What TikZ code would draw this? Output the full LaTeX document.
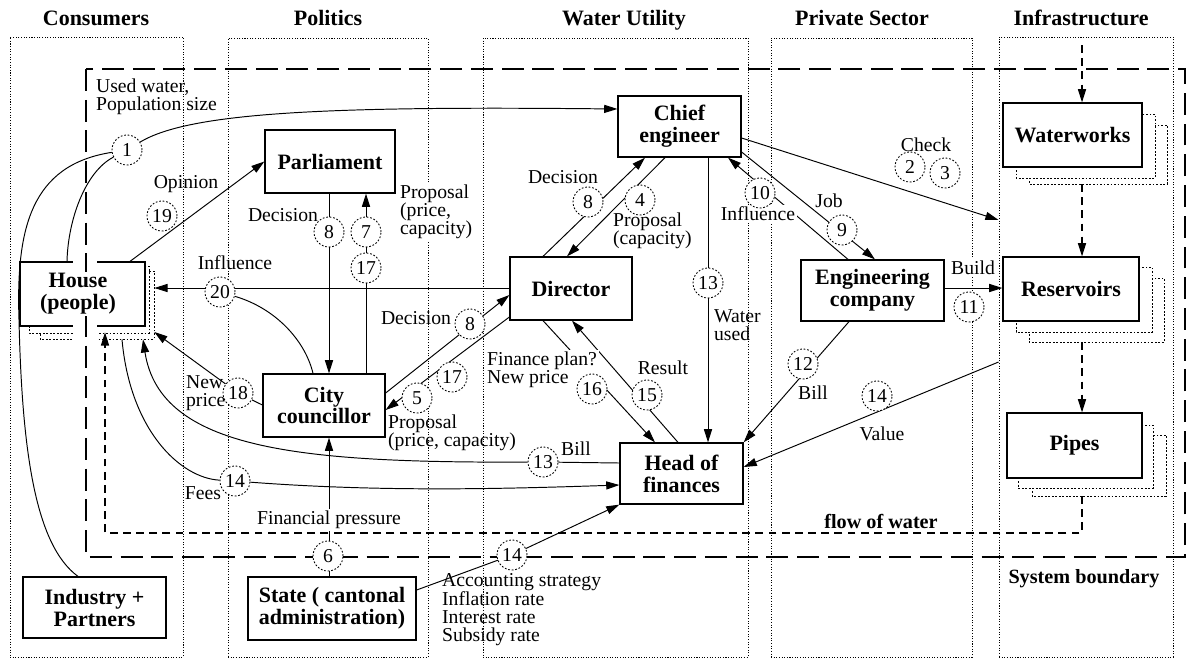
\documentclass[tikz,border=0pt]{standalone}
\usepackage{fontspec}
\setmainfont{Liberation Serif}[BoldFont={Liberation Serif Bold}]
\usetikzlibrary{arrows.meta,fit,calc}
\pgfdeclarelayer{bg}
\pgfdeclarelayer{conn}
\pgfsetlayers{bg,conn,main}
\begin{document}
\begin{tikzpicture}[x=0.02cm,y=-0.02cm,
  lab/.style={font=\fontsize{11.2}{10.4}\selectfont, inner sep=1pt},
  labl/.style={lab, align=left, anchor=west},
  wlab/.style={lab, fill=white},
  head/.style={font=\fontsize{12.5}{13}\selectfont\bfseries, anchor=base},
  wh/.style 2 args={minimum width=#1*0.02cm, minimum height=#2*0.02cm},
  bx/.style={draw, line width=0.7pt, fill=white, inner sep=0pt, align=center,
    font=\fontsize{12.5}{12.5}\selectfont\bfseries},
  shad/.style={draw, fill=white, line width=0.5pt, dash pattern=on 1pt off 1pt},
  num/.style={circle, draw, fill=white, line width=0.5pt, dash pattern=on 1pt off 1pt,
    minimum size=0.6cm, inner sep=0pt, font=\fontsize{11.2}{12}\selectfont},
  col/.style={draw, line width=0.5pt, dash pattern=on 0.6pt off 0.9pt, inner sep=0pt},
  flow/.style={line width=0.6pt, dash pattern=on 4.5pt off 3pt},
  sysb/.style={line width=1.5pt, dash pattern=on 12.5pt off 5pt},
  ln/.style={line width=0.55pt},
  arr/.style={ln, -{Triangle[length=7.5pt,width=4.6pt]}}
]
\useasboundingbox (0,0) rectangle (1189,660);

% ---------- column headings ----------
\node[head] (hcons) at (96,25) {Consumers};
\node[head] (hpol)  at (328,25) {Politics};
\node[head] (hwat)  at (624,25) {Water Utility};
\node[head] (hpriv) at (862,25) {Private Sector};
\node[head] (hinf)  at (1081,25) {Infrastructure};

% ---------- actors ----------
\node[bx, wh={130}{63}] (parl)  at (330,161.5) {Parliament};
\node[bx, wh={122}{63}] (cc)    at (324,405.5) {City\\councillor};
\node[bx, wh={123}{61}] (ce)    at (679.5,126.5) {Chief\\engineer};
\node[bx, wh={122}{63}] (dir)   at (571,288.5) {Director};
\node[bx, wh={143}{61}] (ec)    at (872.5,290.5) {Engineering\\company};
\node[bx, wh={123}{61}] (hf)    at (681.5,473.5) {Head of\\finances};
\node[bx, wh={143}{61}] (ind)   at (94.5,607.5) {Industry +\\Partners};
\node[bx, wh={168}{63}] (state) at (332,608.5) {State ( cantonal\\administration)};
\node[bx, wh={139}{64}] (ww)    at (1072.5,135) {Waterworks};
\node[bx, wh={136}{64}] (res)   at (1071,289) {Reservoirs};
\node[bx, wh={135}{65}] (pp)    at (1074.5,445.5) {Pipes};
\node[fit={(20,262) (154,339)}, inner sep=0pt] (hall) {};
\node[font=\fontsize{12.5}{12.5}\selectfont\bfseries, align=center, fill=white, inner sep=1pt]
  (housetxt) at (78,294) {House\\(people)};

% ---------- flow labels ----------
\node[labl] (lused) at (94,97) {Used water,\\Population size};
\node[lab]  (lopin) at (186,184) {Opinion};
\node[lab]  (ldec1) at (283,215) {Decision};
\node[labl, fill=white] (lprop1) at (398,212) {Proposal\\(price,\\capacity)};
\node[lab]  (linf1) at (235,263) {Influence};
\node[labl] (lnew)  at (184,393) {New\\price};
\node[lab]  (ldec2) at (416,318) {Decision};
\node[labl] (lprop2) at (386,433) {Proposal\\(price, capacity)};
\node[wlab] (lfin)  at (329,520) {Financial pressure};
\node[lab]  (lfees) at (203,493) {Fees};
\node[lab]  (lbill1) at (576,449) {Bill};
\node[labl] (lacc)  at (440,610) {Accounting strategy\\Inflation rate\\Interest rate\\Subsidy rate};
\node[labl, fill=white] (lplan) at (485,370) {Finance plan?\\New price};
\node[lab]  (lres)  at (663,368) {Result};
\node[labl] (lwat)  at (712,325) {Water\\used};
\node[lab]  (ldec3) at (563,177) {Decision};
\node[labl] (lprop3) at (611,231) {Proposal\\(capacity)};
\node[wlab] (linf2) at (758,214) {Influence};
\node[lab]  (ljob)  at (829,201) {Job};
\node[lab]  (lchk)  at (926,145) {Check};
\node[wlab] (lbuild) at (973,268) {Build};
\node[lab]  (lbill2) at (813,393) {Bill};
\node[lab]  (lval)  at (882,434) {Value};
\node[font=\fontsize{11.5}{12}\selectfont\bfseries] (lflow) at (881,521) {flow of water};
\node[font=\fontsize{11.5}{12}\selectfont\bfseries] (lsys) at (1084,579) {System boundary};

% ---------- numbered steps ----------
\node[num] (c1)   at (127,150) {1};
\node[num] (c19)  at (162,216) {19};
\node[num] (c8a)  at (329,232) {8};
\node[num] (c7)   at (366,232) {7};
\node[num] (c17a) at (366,268) {17};
\node[num] (c20)  at (220,292) {20};
\node[num] (c18)  at (238,393) {18};
\node[num] (c8c)  at (470,324) {8};
\node[num] (c17b) at (452,377) {17};
\node[num] (c5)   at (417,398) {5};
\node[num] (c14a) at (235,481) {14};
\node[num] (c13b) at (543,462) {13};
\node[num] (c6)   at (328,556) {6};
\node[num] (c14c) at (512,555) {14};
\node[num] (c16)  at (592,389) {16};
\node[num] (c15)  at (647,395) {15};
\node[num] (c13a) at (708,283) {13};
\node[num] (c8b)  at (588,202) {8};
\node[num] (c4)   at (640,200) {4};
\node[num] (c10)  at (760,193) {10};
\node[num] (c9)   at (842,230) {9};
\node[num] (c12)  at (803,364) {12};
\node[num] (c14b) at (877,396) {14};
\node[num] (c11)  at (969,307) {11};
\node[num] (c2)   at (910,167) {2};
\node[num] (c3)   at (945,173) {3};

% ---------- frames, stacks, water flow and system boundary ----------
\begin{pgfonlayer}{bg}
  \node[col, fit={(10,37) (183,657)}]   (colcons) {};
  \node[col, fit={(228,38) (428,657)}]  (colpol) {};
  \node[col, fit={(483,38) (748,657)}]  (colwat) {};
  \node[col, fit={(771,38) (972,657)}]  (colpriv) {};
  \node[col, fit={(999,37) (1173,657)}] (colinf) {};

  % stacked infrastructure elements
  \draw[shad] (1029,125) rectangle (1167,184);
  \draw[shad] (1016,114) rectangle (1155,178);
  \draw[shad] (1029,278) rectangle (1164,342);
  \draw[shad] (1016,267) rectangle (1152,332);
  \draw[shad] (1032,435) rectangle (1166,496);
  \draw[shad] (1018,425) rectangle (1153,488);

  % households
  \draw[shad] (40,271) rectangle (154,339);
  \draw[shad] (29,266) rectangle (149,333);
  \node[draw, line width=0.7pt, fill=white, wh={125}{64}] (house) at (82.5,294) {};
  \fill[white] (73,250) rectangle (97,345);

  % flow of water
  \coordinate (src) at (1082,45);
  \draw[flow, -{Triangle[length=7.5pt,width=4.6pt]}] (src) -- (ww.north -| src);
  \draw[flow, -{Triangle[length=7.5pt,width=4.6pt]}] (1082,184) -- (res.north -| src);
  \draw[flow, -{Triangle[length=7.5pt,width=4.6pt]}] (1082,342) -- (pp.north -| src);
  \draw[flow, -{Triangle[length=7.5pt,width=4.6pt]}, shorten >=-4pt]
    (1082,496) -- (1082,533) -| (hall.south -| 105,0);

  % system boundary
  \draw[sysb] (86,69) rectangle (1185,557);
\end{pgfonlayer}

% ---------- connectors ----------
\begin{pgfonlayer}{conn}
  % 1: used water, population size
  \draw[arr] (c1) .. controls (190,112) and (330,106) .. (ce.west |- 0,109);
  \draw[ln] (c1) .. controls (30,165) and (16,230) .. (19,320)
                 .. controls (22,450) and (35,545) .. (ind.north -| 78,0);
  \draw[ln] (c1) .. controls (85,172) and (68,220) .. (house.north -| 67,0);
  % 19: opinion
  \draw[arr] (house.north -| 130,0) -- (parl.west);
  % 8 / 7, 17: parliament and city councillor
  \draw[arr] (parl.south -| 329,0) -- (cc.north -| 329,0);
  \draw[arr] (cc.north -| 366,0) -- (parl.south -| 366,0);
  % 20: influence
  \draw[arr] (dir.west |- 0,288) -- (hall.east |- 0,288);
  \draw[ln] (c20) .. controls (275,308) and (305,340) .. (cc.north -| 313,0);
  % 18: new price
  \draw[ln] (cc.west |- 0,405) -- (c18);
  \draw[arr] (c18) -- (hall.east |- 0,332);
  % 13: bill
  \draw[ln] (hf.west |- 0,463) -- (c13b);
  \draw[arr] (c13b) .. controls (300,463) and (160,450) .. (hall.south -| 143,0);
  % 14: fees
  \draw[ln] (hall.south -| 122,0) .. controls (130,430) and (180,478) .. (c14a);
  \draw[arr] (c14a) .. controls (380,492) and (500,489) .. (hf.west |- 0,485);
  % 6: financial pressure
  \draw[arr] (state.north -| 329,0) -- (cc.south -| 329,0);
  % 14: accounting strategy etc.
  \draw[arr] (state.east |- 0,590) -- (c14c.center) -- (hf.south west);
  % 16, 15: finance plan and result
  \draw[arr] (dir.south -| 543,0) -- (hf.north -| 655,0);
  \draw[arr] (hf.north -| 678,0) -- (dir.south -| 572,0);
  % 13: water used
  \draw[arr] (ce.south -| 708,0) -- (hf.north -| 708,0);
  % 12: bill
  \draw[arr] (ec.south -| 849,0) -- (hf.north east);
  % 14: value
  \draw[arr] (colinf.west |- 0,362) -- (hf.east |- 0,467);
  % 8, 4: director and chief engineer
  \draw[arr] (dir.north -| 543,0) -- (ce.south -| 645,0);
  \draw[arr] (ce.south -| 665,0) -- (dir.north -| 567,0);
  % 2, 3: check
  \draw[arr] (ce.east |- 0,138) -- (colinf.west |- 0,220);
  % 9: job
  \draw[arr] (ce.east |- 0,152) -- (ec.north -| 875,0);
  % 10: influence
  \draw[arr] (ec.north -| 848,0) -- (ce.south -| 728,0);
  % 11: build
  \draw[arr] (ec.east |- 0,288) -- (res.west |- 0,288);
  % 8, 5, 17: city councillor and director
  \draw[arr] (cc.east |- 0,393) -- (dir.west |- 0,295);
  \draw[arr] (dir.west |- 0,317) -- (cc.east |- 0,410);
\end{pgfonlayer}
\end{tikzpicture}
\end{document}
